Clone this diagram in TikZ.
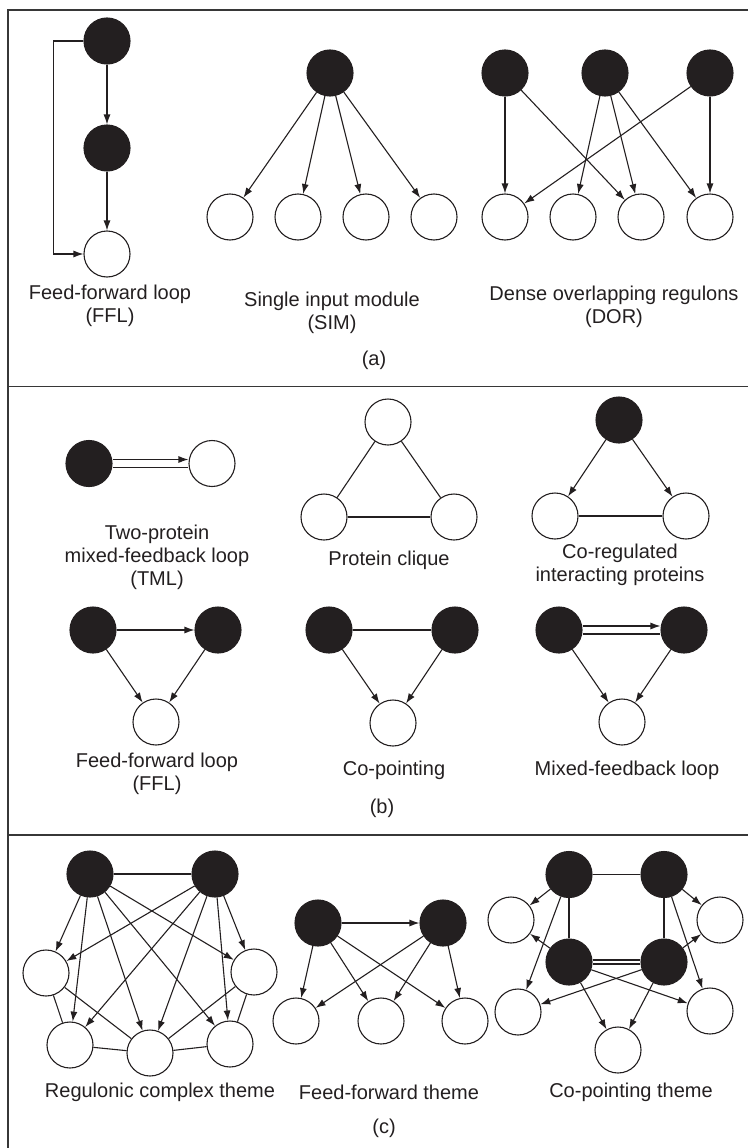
\documentclass[tikz,border=0pt]{standalone}
\usepackage{fontspec}
\setmainfont{Liberation Sans}
\usetikzlibrary{arrows.meta}
\definecolor{ink}{RGB}{35,31,32}
\definecolor{framecol}{RGB}{55,55,55}
\tikzset{
  bn/.style={circle, fill=ink, draw=ink, line width=1.1pt, minimum size=46pt, inner sep=0pt},
  wn/.style={circle, fill=white, draw=ink, line width=1.1pt, minimum size=46pt, inner sep=0pt},
  edge/.style={line width=1.1pt, draw=ink},
  arr/.style={edge, -{Latex[length=10pt,width=7pt]}},
  lbl/.style={font=\fontsize{20}{23}\selectfont, align=center, text=ink, inner sep=0pt},
  frame/.style={line width=1.8pt, draw=framecol},
}
\begin{document}
\begin{tikzpicture}[x=1pt,y=-1pt]
\useasboundingbox (0,0) rectangle (748,1148);
% frame
\draw[frame] (8.3,1148) -- (8.3,10) -- (748,10);
\draw[frame] (8.3,386.5) -- (748,386.5);
\draw[frame] (8.3,835) -- (748,835);

% ---------------- (a) ----------------
% FFL
\node[bn] (f1) at (107,41) {};
\node[bn] (f2) at (107,148) {};
\node[wn] (f3) at (107,254) {};
\draw[arr] (f1) -- (f2);
\draw[arr] (f2) -- (f3);
\draw[arr] (f1.west) -- ++(-30,0) |- (f3.west);
\node[lbl] (lffla) at (110,306) {Feed-forward loop\\(FFL)};

% SIM
\node[bn] (s0) at (330,73) {};
\foreach \i/\x in {1/230,2/298,3/366,4/434}{
  \node[wn] (s\i) at (\x,217) {};
  \draw[arr] (s0) -- (s\i);
}
\node[lbl] (lsim) at (332,313) {Single input module\\(SIM)};

% DOR
\node[bn] (d1) at (505,73) {};
\node[bn] (d2) at (605,73) {};
\node[bn] (d3) at (710,73) {};
\node[wn] (e1) at (505,217) {};
\node[wn] (e2) at (573,217) {};
\node[wn] (e3) at (641,217) {};
\node[wn] (e4) at (710,217) {};
\draw[arr] (d1) -- (e1);
\draw[arr] (d1) -- (e3);
\draw[arr] (d2) -- (e2);
\draw[arr] (d2) -- (e3);
\draw[arr] (d2) -- (e4);
\draw[arr] (d3) -- (e1);
\draw[arr] (d3) -- (e4);
\node[lbl] (ldor) at (614,307) {Dense overlapping regulons\\(DOR)};

\node[lbl] (la) at (374,360) {(a)};

% ---------------- (b) ----------------
% TML
\node[bn] (t1) at (89,463.5) {};
\node[wn] (t2) at (212,463.5) {};
\draw[arr] ([yshift=4pt]t1.east) -- ([yshift=4pt]t2.west);
\draw[edge] ([yshift=-4pt]t1.east) -- ([yshift=-4pt]t2.west);
\node[lbl] (ltml) at (157,557) {Two-protein\\mixed-feedback loop\\(TML)};

% Protein clique
\node[wn] (p1) at (388,422) {};
\node[wn] (p2) at (324,517) {};
\node[wn] (p3) at (454,517) {};
\draw[edge] (p1) -- (p2);
\draw[edge] (p1) -- (p3);
\draw[edge] (p2) -- (p3);
\node[lbl] (lpc) at (389,560) {Protein clique};

% Co-regulated interacting proteins
\node[bn] (c0) at (619,420) {};
\node[wn] (c1) at (555,516) {};
\node[wn] (c2) at (686,516) {};
\draw[arr] (c0) -- (c1);
\draw[arr] (c0) -- (c2);
\draw[edge] (c1) -- (c2);
\node[lbl] (lcr) at (620,565) {Co-regulated\\interacting proteins};

% FFL (b)
\node[bn] (g1) at (93,630) {};
\node[bn] (g2) at (218,630) {};
\node[wn] (g3) at (156,722) {};
\draw[arr] (g1) -- (g2);
\draw[arr] (g1) -- (g3);
\draw[arr] (g2) -- (g3);
\node[lbl] (lfflb) at (157,774) {Feed-forward loop\\(FFL)};

% Co-pointing
\node[bn] (h1) at (329,630) {};
\node[bn] (h2) at (455,630) {};
\node[wn] (h3) at (393,723) {};
\draw[edge] (h1) -- (h2);
\draw[arr] (h1) -- (h3);
\draw[arr] (h2) -- (h3);
\node[lbl] (lcp) at (394,770) {Co-pointing};

% Mixed-feedback loop
\node[bn] (m1) at (559,630) {};
\node[bn] (m2) at (684,630) {};
\node[wn] (m3) at (622,722) {};
\draw[arr] ([yshift=4pt]m1.east) -- ([yshift=4pt]m2.west);
\draw[edge] ([yshift=-4pt]m1.east) -- ([yshift=-4pt]m2.west);
\draw[arr] (m1) -- (m3);
\draw[arr] (m2) -- (m3);
\node[lbl] (lmf) at (627,770) {Mixed-feedback loop};

\node[lbl] (lb) at (382,808) {(b)};

% ---------------- (c) ----------------
% Regulonic complex theme
\node[bn] (ra) at (90,874) {};
\node[bn] (rb) at (215,874) {};
\node[wn] (rl) at (46,973) {};
\node[wn] (rr) at (254,972) {};
\node[wn] (r1) at (70,1045) {};
\node[wn] (r2) at (150,1053) {};
\node[wn] (r3) at (230,1044) {};
\draw[edge] (ra) -- (rb);
\foreach \t in {rl,r1,r2,r3,rr}{
  \draw[arr] (ra) -- (\t);
  \draw[arr] (rb) -- (\t);
}
\draw[edge] (rl) -- (r1);
\draw[edge] (rl) -- (r2);
\draw[edge] (rr) -- (r2);
\draw[edge] (rr) -- (r3);
\draw[edge] (r1) -- (r2);
\draw[edge] (r2) -- (r3);
\node[lbl] (lrc) at (160,1092) {Regulonic complex theme};

% Feed-forward theme
\node[bn] (qa) at (318,923) {};
\node[bn] (qb) at (443,923) {};
\node[wn] (q1) at (296,1021) {};
\node[wn] (q2) at (381,1021) {};
\node[wn] (q3) at (465,1021) {};
\draw[arr] (qa) -- (qb);
\foreach \t in {q1,q2,q3}{
  \draw[arr] (qa) -- (\t);
  \draw[arr] (qb) -- (\t);
}
\node[lbl] (lft) at (389,1092) {Feed-forward theme};

% Co-pointing theme
\node[bn] (ka) at (569,874.5) {};
\node[bn] (kb) at (664,874.5) {};
\node[bn] (kc) at (569,962) {};
\node[bn] (kd) at (664,962) {};
\node[wn] (kl1) at (511,920) {};
\node[wn] (kr1) at (720,920) {};
\node[wn] (kl2) at (518,1012) {};
\node[wn] (kr2) at (710,1011) {};
\node[wn] (kbo) at (618,1050) {};
\draw[edge] (ka) -- (kb);
\draw[edge] (ka) -- (kc);
\draw[edge] (kb) -- (kd);
\draw[edge] ([yshift=2pt]kc.east) -- ([yshift=2pt]kd.west);
\draw[edge] ([yshift=-2pt]kc.east) -- ([yshift=-2pt]kd.west);
\draw[arr] (ka) -- (kl1);
\draw[arr] (ka) -- (kl2);
\draw[arr] (kb) -- (kr1);
\draw[arr] (kb) -- (kr2);
\draw[arr] (kc) -- (kl1);
\draw[arr] (kd) -- (kr1);
\draw[arr] (kc) -- (kr2);
\draw[arr] (kd) -- (kl2);
\draw[arr] (kc) -- (kbo);
\draw[arr] (kd) -- (kbo);
\node[lbl] (lcpt) at (631,1092) {Co-pointing theme};

\node[lbl] (lc) at (384,1128) {(c)};
\end{tikzpicture}
\end{document}
